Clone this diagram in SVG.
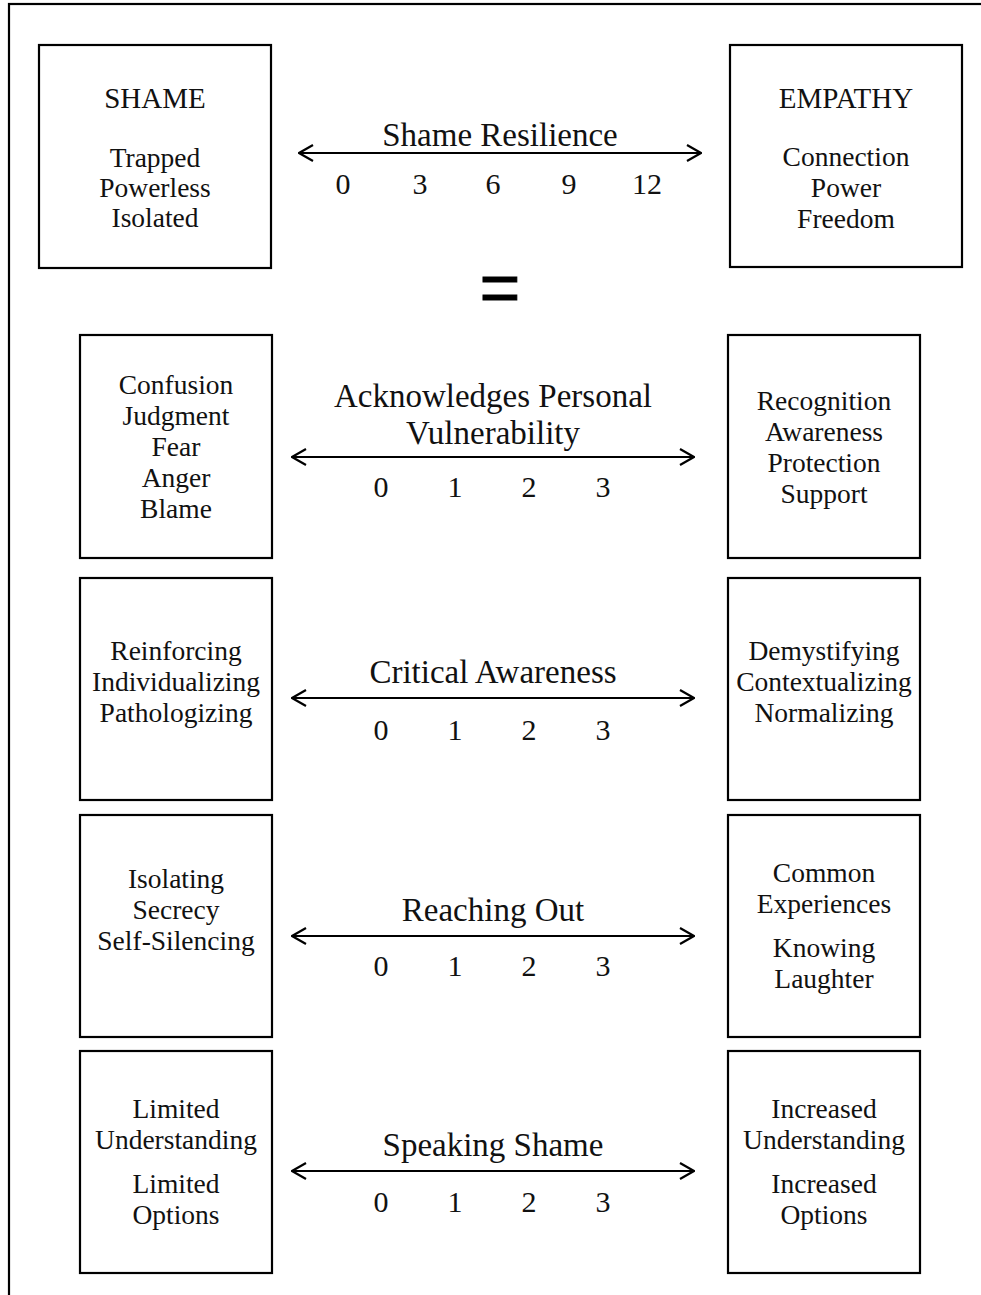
<svg xmlns="http://www.w3.org/2000/svg" width="981" height="1295" viewBox="0 0 981 1295">
<style>
.box{fill:#fff;stroke:#000;stroke-width:2.2}
.t{font-family:"Liberation Serif","Times New Roman",serif;font-size:27.5px;fill:#111;text-anchor:middle}
.h{font-size:29px}
.lbl{font-family:"Liberation Serif","Times New Roman",serif;font-size:33px;fill:#111;text-anchor:middle}
.num{font-family:"Liberation Serif","Times New Roman",serif;font-size:30px;fill:#111;text-anchor:middle}
.arr{stroke:#000;stroke-width:2.2;fill:none;marker-start:url(#ah);marker-end:url(#ah)}
</style>
<defs>
<marker id="ah" viewBox="0 0 16 18" refX="15" refY="9" markerWidth="16" markerHeight="18" markerUnits="userSpaceOnUse" orient="auto-start-reverse">
<path d="M1,1 L15,9 L1,17" fill="none" stroke="#000" stroke-width="2.2"/>
</marker>
</defs>
<rect x="9" y="4" width="1000" height="1320" fill="#fff" stroke="#000" stroke-width="2.2"/>

<g id="shame">
<rect class="box" x="39" y="45" width="232" height="223"/>
<text class="t h" x="155" y="108">SHAME</text>
<text class="t" x="155" y="167">Trapped</text>
<text class="t" x="155" y="197">Powerless</text>
<text class="t" x="155" y="227">Isolated</text>
</g>
<g id="empathy">
<rect class="box" x="730" y="45" width="232" height="222"/>
<text class="t h" x="846" y="108">EMPATHY</text>
<text class="t" x="846" y="166">Connection</text>
<text class="t" x="846" y="197">Power</text>
<text class="t" x="846" y="228">Freedom</text>
</g>
<g id="shame-resilience">
<text class="lbl" x="500" y="146">Shame Resilience</text>
<text class="num" x="343" y="194">0</text>
<text class="num" x="420" y="194">3</text>
<text class="num" x="493" y="194">6</text>
<text class="num" x="569" y="194">9</text>
<text class="num" x="647" y="194">12</text>
</g>
<g id="equals">
<text x="500" y="312" font-family="Liberation Sans, Arial, sans-serif" font-size="70" text-anchor="middle" fill="#000" stroke="#000" stroke-width="0.8">=</text>
</g>

<g id="row1-left">
<rect class="box" x="80" y="335" width="192" height="223"/>
<text class="t" x="176" y="394">Confusion</text>
<text class="t" x="176" y="425">Judgment</text>
<text class="t" x="176" y="456">Fear</text>
<text class="t" x="176" y="487">Anger</text>
<text class="t" x="176" y="518">Blame</text>
</g>
<g id="row1-right">
<rect class="box" x="728" y="335" width="192" height="223"/>
<text class="t" x="824" y="410">Recognition</text>
<text class="t" x="824" y="441">Awareness</text>
<text class="t" x="824" y="472">Protection</text>
<text class="t" x="824" y="503">Support</text>
</g>
<g id="row1-scale">
<text class="lbl" x="493" y="407">Acknowledges Personal</text>
<text class="lbl" x="493" y="444">Vulnerability</text>
<text class="num" x="381" y="497">0</text>
<text class="num" x="455" y="497">1</text>
<text class="num" x="529" y="497">2</text>
<text class="num" x="603" y="497">3</text>
</g>

<g id="row2-left">
<rect class="box" x="80" y="578" width="192" height="222"/>
<text class="t" x="176" y="660">Reinforcing</text>
<text class="t" x="176" y="691">Individualizing</text>
<text class="t" x="176" y="722">Pathologizing</text>
</g>
<g id="row2-right">
<rect class="box" x="728" y="578" width="192" height="222"/>
<text class="t" x="824" y="660">Demystifying</text>
<text class="t" x="824" y="691">Contextualizing</text>
<text class="t" x="824" y="722">Normalizing</text>
</g>
<g id="row2-scale">
<text class="lbl" x="493" y="683">Critical Awareness</text>
<text class="num" x="381" y="740">0</text>
<text class="num" x="455" y="740">1</text>
<text class="num" x="529" y="740">2</text>
<text class="num" x="603" y="740">3</text>
</g>

<g id="row3-left">
<rect class="box" x="80" y="815" width="192" height="222"/>
<text class="t" x="176" y="888">Isolating</text>
<text class="t" x="176" y="919">Secrecy</text>
<text class="t" x="176" y="950">Self-Silencing</text>
</g>
<g id="row3-right">
<rect class="box" x="728" y="815" width="192" height="222"/>
<text class="t" x="824" y="882">Common</text>
<text class="t" x="824" y="913">Experiences</text>
<text class="t" x="824" y="957">Knowing</text>
<text class="t" x="824" y="988">Laughter</text>
</g>
<g id="row3-scale">
<text class="lbl" x="493" y="921">Reaching Out</text>
<text class="num" x="381" y="976">0</text>
<text class="num" x="455" y="976">1</text>
<text class="num" x="529" y="976">2</text>
<text class="num" x="603" y="976">3</text>
</g>

<g id="row4-left">
<rect class="box" x="80" y="1051" width="192" height="222"/>
<text class="t" x="176" y="1118">Limited</text>
<text class="t" x="176" y="1149">Understanding</text>
<text class="t" x="176" y="1193">Limited</text>
<text class="t" x="176" y="1224">Options</text>
</g>
<g id="row4-right">
<rect class="box" x="728" y="1051" width="192" height="222"/>
<text class="t" x="824" y="1118">Increased</text>
<text class="t" x="824" y="1149">Understanding</text>
<text class="t" x="824" y="1193">Increased</text>
<text class="t" x="824" y="1224">Options</text>
</g>
<g id="row4-scale">
<text class="lbl" x="493" y="1156">Speaking Shame</text>
<text class="num" x="381" y="1212">0</text>
<text class="num" x="455" y="1212">1</text>
<text class="num" x="529" y="1212">2</text>
<text class="num" x="603" y="1212">3</text>
</g>

<g id="connectors">
<line class="arr" x1="299" y1="153" x2="701" y2="153"/>
<line class="arr" x1="292" y1="457" x2="694" y2="457"/>
<line class="arr" x1="292" y1="698" x2="694" y2="698"/>
<line class="arr" x1="292" y1="936" x2="694" y2="936"/>
<line class="arr" x1="292" y1="1171" x2="694" y2="1171"/>
</g>
</svg>
